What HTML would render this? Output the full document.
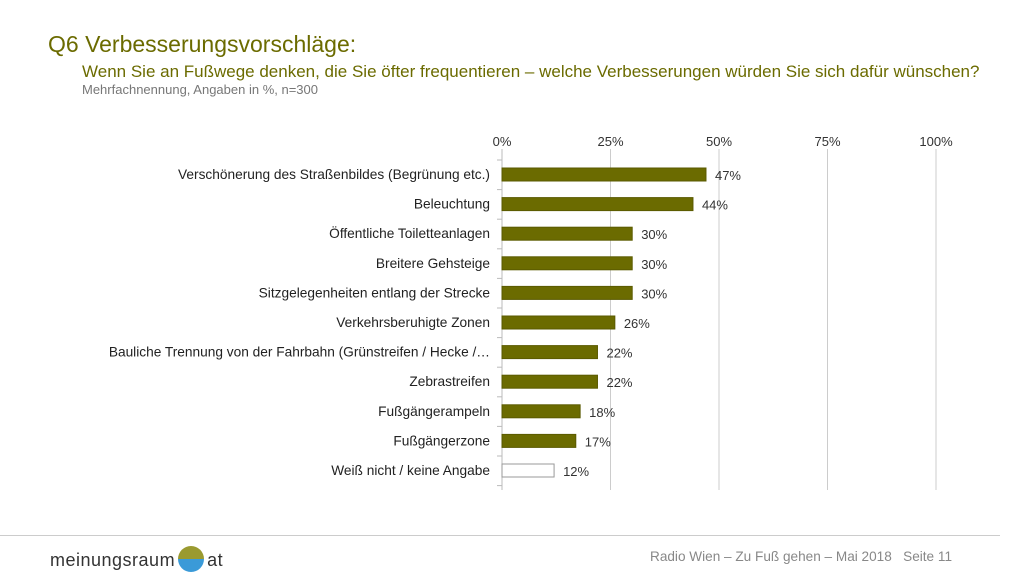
<!DOCTYPE html>
<html><head><meta charset="utf-8"><style>
body{margin:0;width:1024px;height:576px;background:#fff;font-family:"Liberation Sans",sans-serif;position:relative;overflow:hidden}
.t{position:absolute;white-space:nowrap}
</style></head><body>
<div class="t" style="left:48px;top:31px;font-size:23px;color:#6b6b00">Q6 Verbesserungsvorschläge:</div>
<div class="t" style="left:82px;top:62px;font-size:17px;color:#6b6b00">Wenn Sie an Fußwege denken, die Sie öfter frequentieren – welche Verbesserungen würden Sie sich dafür wünschen?</div>
<div class="t" style="left:82px;top:82px;font-size:13px;color:#777">Mehrfachnennung, Angaben in %, n=300</div>
<svg id="c" width="1024" height="576" style="position:absolute;left:0;top:0"></svg>
<div class="t" style="left:0;top:535px;width:1000px;height:1px;background:#ccc"></div>
<div class="t" style="left:50px;top:546px;font-size:18px;color:#333;letter-spacing:0.5px">meinungsraum<span style="display:inline-block;width:26px;height:26px;border-radius:50%;background:linear-gradient(#9a9a30 50%,#3a9ad8 50%);vertical-align:-6px;margin:0 3px"></span>at</div>
<div class="t" style="left:650px;top:549px;font-size:13.6px;color:#888">Radio Wien – Zu Fuß gehen – Mai 2018 &nbsp; Seite 11</div>
<script>
const categories=["Verschönerung des Straßenbildes (Begrünung etc.)","Beleuchtung","Öffentliche Toiletteanlagen","Breitere Gehsteige","Sitzgelegenheiten entlang der Strecke","Verkehrsberuhigte Zonen","Bauliche Trennung von der Fahrbahn (Grünstreifen / Hecke /…","Zebrastreifen","Fußgängerampeln","Fußgängerzone","Weiß nicht / keine Angabe"];
const values=[47,44,30,30,30,26,22,22,18,17,12];
const ticks=[0,25,50,75,100];
const svg=document.getElementById('c');const NS='http://www.w3.org/2000/svg';
const x=v=>502+v*4.34;const top0=160,pitch=29.6,y=i=>top0+i*pitch;
function mk(t,a,txt){const e=document.createElementNS(NS,t);for(const k in a)e.setAttribute(k,a[k]);if(txt!==undefined)e.textContent=txt;svg.appendChild(e);return e;}
ticks.forEach(t=>{
const g=mk('line',{x1:x(t),x2:x(t),y1:149,y2:490,stroke:t?'#ccc':'#bbb'});


const l=mk('text',{x:x(t),y:146,'text-anchor':'middle','font-size':13,fill:'#333'},t+'%');


});
for(let i=0;i<=categories.length;i++){const tk=mk('line',{x1:497,x2:502,y1:y(i),y2:y(i),stroke:'#bbb'});

}
categories.forEach((c,i)=>{
const last=i===categories.length-1;
const b=mk('rect',{x:x(0),y:y(i)+8,width:x(values[i])-x(0),height:13,fill:last?'#fff':'#6b6b00',stroke:last?'#999':'#5a5a00','stroke-width':1});


const l=mk('text',{x:490,y:y(i)+19,'text-anchor':'end','font-size':13.7,fill:'#222'},c);


const v=mk('text',{x:x(values[i])+9,y:y(i)+20,'font-size':13,fill:'#333'},values[i]+'%');


});
</script>
</body></html>
